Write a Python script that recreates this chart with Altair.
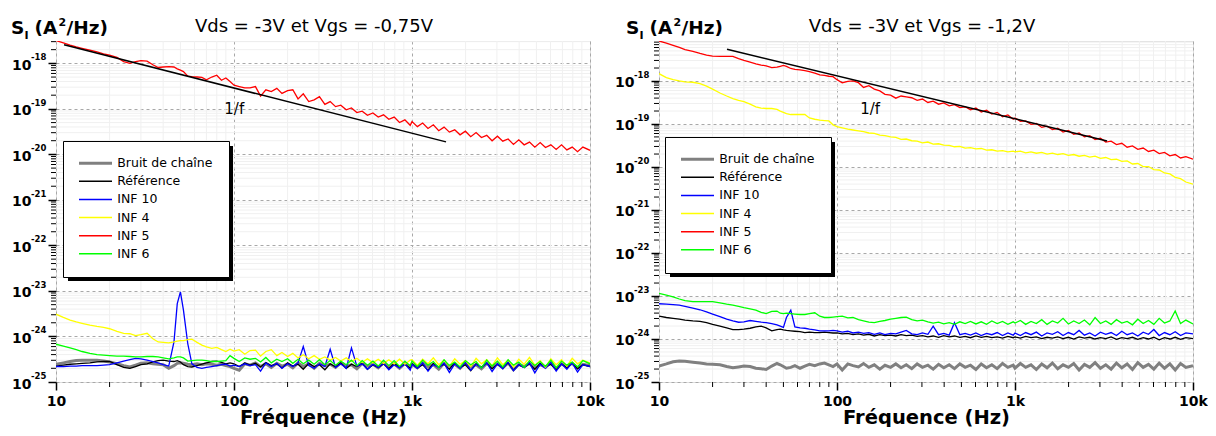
import altair as alt
import pandas as pd

FONT = "DejaVu Sans"
W, H = 534, 341

# ---------------- data (log10 of S in A^2/Hz) ----------------
freq = [10, 11, 12, 13, 14, 15.5, 17, 18.5, 20, 22, 24, 26, 28, 30, 32.5, 35, 37.5, 40, 43, 46,
        48, 50, 52, 55, 58, 62, 66, 70, 75, 80, 85, 90, 95,
        100, 107, 115, 123, 132, 141, 151, 162, 174, 186, 200, 214, 229, 245, 263, 282, 302, 324, 347, 372,
        398, 427, 457, 490, 525, 562, 603, 646, 692, 741, 794, 851, 912, 977,
        1000, 1072, 1148, 1230, 1318, 1413, 1514, 1622, 1738, 1862, 1995, 2138, 2291, 2455, 2630, 2818,
        3020, 3236, 3467, 3715, 3981, 4266, 4571, 4898, 5248, 5623, 6026, 6457, 6918, 7413, 7943, 8511, 9120, 10000]

series_names = ["Bruit de chaîne", "Référence", "INF 10", "INF 4", "INF 5", "INF 6"]
series_colors = ["#808080", "#000000", "#0000ff", "#ffff00", "#ff0000", "#00ff00"]

left_gray = [-24.61, -24.58, -24.55, -24.53, -24.52, -24.52, -24.52, -24.54, -24.56, -24.60, -24.64, -24.67, -24.63, -24.59, -24.58, -24.60, -24.61, -24.62, -24.70, -24.64, -24.59, -24.58, -24.59, -24.61, -24.62, -24.60, -24.62, -24.60, -24.61, -24.63, -24.61, -24.64, -24.66,
             -24.70, -24.74, -24.60, -24.63, -24.58, -24.66, -24.60, -24.68, -24.59, -24.65, -24.61, -24.69, -24.58, -24.66, -24.60, -24.70, -24.59, -24.64, -24.61, -24.68, -24.58, -24.66, -24.62, -24.71, -24.59, -24.65, -24.61, -24.69, -24.58, -24.67, -24.60, -24.70, -24.59, -24.66,
             -24.61, -24.69, -24.58, -24.66, -24.62, -24.72, -24.59, -24.65, -24.61, -24.70, -24.58, -24.67, -24.62, -24.71, -24.59, -24.66, -24.60, -24.69, -24.58, -24.73, -24.61, -24.66, -24.59, -24.70, -24.62, -24.67, -24.58, -24.71, -24.60, -24.66, -24.59, -24.69, -24.61, -24.64]
left_black = [-24.65, -24.63, -24.61, -24.60, -24.59, -24.58, -24.56, -24.55, -24.55, -24.62, -24.68, -24.70, -24.66, -24.62, -24.60, -24.56, -24.53, -24.52, -24.54, -24.55, -24.53, -24.56, -24.62, -24.66, -24.67, -24.64, -24.61, -24.58, -24.55, -24.54, -24.57, -24.60, -24.58,
              -24.60, -24.66, -24.58, -24.63, -24.59, -24.67, -24.57, -24.64, -24.60, -24.69, -24.58, -24.65, -24.61, -24.72, -24.59, -24.66, -24.62, -24.73, -24.60, -24.67, -24.58, -24.70, -24.61, -24.66, -24.59, -24.72, -24.62, -24.68, -24.60, -24.71, -24.59, -24.67, -24.61, -24.70,
              -24.60, -24.69, -24.62, -24.74, -24.59, -24.67, -24.61, -24.72, -24.58, -24.68, -24.62, -24.75, -24.60, -24.67, -24.59, -24.71, -24.61, -24.69, -24.58, -24.74, -24.62, -24.68, -24.60, -24.72, -24.59, -24.67, -24.61, -24.73, -24.60, -24.69, -24.58, -24.71, -24.62, -24.66]
left_blue = [-24.66, -24.66, -24.65, -24.65, -24.64, -24.64, -24.64, -24.63, -24.62, -24.58, -24.54, -24.51, -24.48, -24.49, -24.52, -24.55, -24.58, -24.62, -24.65, -24.12, -23.28, -23.02, -23.42, -24.16, -24.60, -24.68, -24.70, -24.68, -24.66, -24.64, -24.62, -24.61, -24.65,
             -24.63, -24.66, -24.60, -24.64, -24.62, -24.76, -24.58, -24.66, -24.59, -24.70, -24.60, -24.66, -24.58, -24.22, -24.64, -24.70, -24.60, -24.66, -24.28, -24.68, -24.60, -24.70, -24.25, -24.65, -24.60, -24.72, -24.61, -24.68, -24.59, -24.73, -24.62, -24.69, -24.60, -24.74,
             -24.61, -24.70, -24.58, -24.76, -24.62, -24.68, -24.59, -24.79, -24.60, -24.70, -24.57, -24.74, -24.61, -24.69, -24.58, -24.77, -24.60, -24.71, -24.56, -24.75, -24.62, -24.68, -24.58, -24.80, -24.61, -24.70, -24.57, -24.76, -24.60, -24.72, -24.58, -24.78, -24.62, -24.66]
left_yellow = [-23.51, -23.58, -23.64, -23.68, -23.71, -23.75, -23.78, -23.80, -23.83, -23.89, -23.93, -23.94, -23.98, -23.96, -23.93, -24.05, -24.12, -24.13, -24.14, -24.12, -24.10, -24.09, -24.09, -24.07, -24.06, -24.13, -24.19, -24.23, -24.26, -24.24, -24.29, -24.33, -24.28,
               -24.32, -24.29, -24.39, -24.31, -24.30, -24.43, -24.33, -24.29, -24.42, -24.35, -24.44, -24.37, -24.47, -24.40, -24.49, -24.42, -24.50, -24.45, -24.52, -24.46, -24.54, -24.47, -24.55, -24.48, -24.57, -24.49, -24.58, -24.50, -24.59, -24.51, -24.60, -24.50, -24.61, -24.52,
               -24.51, -24.63, -24.50, -24.60, -24.47, -24.62, -24.52, -24.65, -24.49, -24.61, -24.53, -24.66, -24.48, -24.60, -24.51, -24.64, -24.47, -24.62, -24.52, -24.67, -24.50, -24.61, -24.46, -24.63, -24.53, -24.68, -24.49, -24.62, -24.51, -24.65, -24.48, -24.60, -24.52, -24.58]
left_red = [-17.50, -17.55, -17.60, -17.64, -17.67, -17.71, -17.75, -17.79, -17.82, -17.87, -17.96, -18.00, -17.96, -17.94, -17.95, -18.03, -18.09, -18.08, -18.07, -18.08, -18.12, -18.15, -18.18, -18.28, -18.29, -18.30, -18.31, -18.36, -18.30, -18.26, -18.37, -18.32, -18.40,
            -18.48, -18.51, -18.54, -18.54, -18.51, -18.72, -18.58, -18.62, -18.55, -18.66, -18.60, -18.58, -18.78, -18.67, -18.84, -18.80, -18.73, -18.90, -18.84, -18.95, -18.92, -19.02, -18.98, -19.08, -19.05, -19.14, -19.09, -19.18, -19.13, -19.23, -19.18, -19.30, -19.24, -19.36,
            -19.28, -19.39, -19.31, -19.43, -19.35, -19.48, -19.40, -19.51, -19.46, -19.57, -19.49, -19.61, -19.52, -19.63, -19.58, -19.70, -19.60, -19.71, -19.66, -19.78, -19.68, -19.79, -19.73, -19.84, -19.74, -19.85, -19.79, -19.89, -19.79, -19.90, -19.84, -19.94, -19.84, -19.91]
left_green = [-24.17, -24.21, -24.25, -24.29, -24.33, -24.37, -24.40, -24.41, -24.42, -24.43, -24.43, -24.44, -24.45, -24.45, -24.44, -24.44, -24.45, -24.47, -24.49, -24.47, -24.45, -24.45, -24.47, -24.54, -24.53, -24.52, -24.52, -24.53, -24.55, -24.55, -24.54, -24.53, -24.42,
              -24.48, -24.55, -24.47, -24.50, -24.48, -24.56, -24.46, -24.58, -24.50, -24.55, -24.49, -24.59, -24.50, -24.60, -24.52, -24.61, -24.51, -24.62, -24.53, -24.63, -24.54, -24.62, -24.52, -24.64, -24.53, -24.63, -24.54, -24.65, -24.52, -24.64, -24.53, -24.66, -24.54, -24.65,
              -24.54, -24.66, -24.52, -24.63, -24.55, -24.68, -24.51, -24.64, -24.56, -24.67, -24.53, -24.62, -24.55, -24.69, -24.52, -24.65, -24.54, -24.67, -24.51, -24.63, -24.56, -24.68, -24.53, -24.64, -24.55, -24.66, -24.52, -24.69, -24.54, -24.63, -24.56, -24.67, -24.53, -24.60]

right_gray = [-24.63, -24.58, -24.53, -24.51, -24.52, -24.54, -24.56, -24.58, -24.59, -24.60, -24.64, -24.67, -24.65, -24.63, -24.64, -24.68, -24.69, -24.71, -24.63, -24.57, -24.60, -24.64, -24.68, -24.66, -24.62, -24.68, -24.63, -24.59, -24.62, -24.58, -24.56, -24.60, -24.64,
              -24.58, -24.72, -24.58, -24.62, -24.65, -24.57, -24.66, -24.60, -24.70, -24.61, -24.66, -24.58, -24.67, -24.60, -24.69, -24.58, -24.66, -24.61, -24.70, -24.59, -24.67, -24.60, -24.69, -24.58, -24.66, -24.61, -24.71, -24.58, -24.67, -24.60, -24.69, -24.57, -24.66, -24.61,
              -24.68, -24.57, -24.66, -24.60, -24.71, -24.58, -24.67, -24.56, -24.69, -24.60, -24.66, -24.57, -24.72, -24.59, -24.66, -24.55, -24.68, -24.60, -24.70, -24.56, -24.67, -24.58, -24.71, -24.55, -24.66, -24.59, -24.70, -24.56, -24.68, -24.58, -24.72, -24.57, -24.66, -24.62]
right_black = [-23.47, -23.50, -23.52, -23.54, -23.56, -23.58, -23.59, -23.62, -23.66, -23.70, -23.74, -23.78, -23.78, -23.77, -23.75, -23.72, -23.70, -23.74, -23.81, -23.78, -23.77, -23.79, -23.80, -23.81, -23.82, -23.83, -23.85, -23.84, -23.85, -23.85, -23.84, -23.85, -23.86,
               -23.86, -23.88, -23.87, -23.90, -23.88, -23.91, -23.89, -23.93, -23.90, -23.92, -23.91, -23.93, -23.90, -23.92, -23.91, -23.94, -23.92, -23.95, -23.93, -23.96, -23.92, -23.95, -23.93, -23.96, -23.94, -23.97, -23.93, -23.96, -23.94, -23.97, -23.95, -23.98, -23.94, -23.97,
               -23.95, -23.98, -23.94, -23.97, -23.95, -23.99, -23.96, -23.98, -23.95, -23.99, -23.96, -24.00, -23.95, -23.98, -23.96, -24.00, -23.97, -23.99, -23.95, -24.01, -23.97, -23.99, -23.96, -24.01, -23.97, -24.00, -23.96, -24.02, -23.97, -24.00, -23.96, -24.01, -23.97, -23.99]
right_blue = [-23.18, -23.19, -23.20, -23.21, -23.24, -23.28, -23.32, -23.37, -23.42, -23.48, -23.54, -23.58, -23.61, -23.60, -23.57, -23.59, -23.61, -23.62, -23.64, -23.67, -23.70, -23.73, -23.50, -23.33, -23.72, -23.74, -23.75, -23.77, -23.79, -23.81, -23.81, -23.81, -23.80,
              -23.81, -23.84, -23.82, -23.86, -23.84, -23.87, -23.85, -23.89, -23.86, -23.90, -23.87, -23.88, -23.84, -23.80, -23.88, -23.90, -23.86, -23.89, -23.70, -23.90, -23.87, -23.91, -23.62, -23.90, -23.87, -23.91, -23.86, -23.92, -23.87, -23.90, -23.85, -23.92, -23.86, -23.91,
              -23.86, -23.92, -23.85, -23.90, -23.84, -23.93, -23.86, -23.89, -23.83, -23.92, -23.85, -23.90, -23.80, -23.91, -23.86, -23.93, -23.84, -23.89, -23.85, -23.92, -23.82, -23.90, -23.86, -23.93, -23.84, -23.89, -23.78, -23.92, -23.85, -23.90, -23.83, -23.92, -23.86, -23.88]
right_yellow = [-17.83, -17.92, -17.97, -18.00, -18.02, -18.03, -18.06, -18.12, -18.19, -18.28, -18.35, -18.41, -18.45, -18.48, -18.54, -18.60, -18.63, -18.64, -18.64, -18.66, -18.70, -18.73, -18.76, -18.78, -18.78, -18.78, -18.78, -18.86, -18.89, -18.91, -18.92, -18.93, -19.02,
                -19.06, -19.09, -19.12, -19.14, -19.16, -19.18, -19.21, -19.22, -19.26, -19.27, -19.30, -19.31, -19.36, -19.35, -19.39, -19.40, -19.44, -19.42, -19.47, -19.46, -19.49, -19.50, -19.53, -19.52, -19.56, -19.55, -19.58, -19.57, -19.61, -19.60, -19.63, -19.62, -19.65, -19.63,
                -19.65, -19.63, -19.67, -19.65, -19.68, -19.66, -19.70, -19.68, -19.71, -19.69, -19.73, -19.71, -19.75, -19.73, -19.77, -19.75, -19.80, -19.78, -19.83, -19.82, -19.87, -19.86, -19.93, -19.92, -19.99, -19.99, -20.06, -20.07, -20.14, -20.16, -20.24, -20.27, -20.35, -20.40]
right_red = [-17.07, -17.12, -17.17, -17.22, -17.27, -17.31, -17.36, -17.40, -17.42, -17.43, -17.43, -17.43, -17.48, -17.52, -17.56, -17.60, -17.63, -17.65, -17.69, -17.68, -17.66, -17.64, -17.66, -17.71, -17.73, -17.74, -17.76, -17.78, -17.82, -17.86, -17.87, -17.89, -17.90,
             -17.97, -18.04, -18.01, -18.00, -18.04, -18.15, -18.11, -18.19, -18.23, -18.31, -18.33, -18.40, -18.35, -18.37, -18.39, -18.45, -18.42, -18.50, -18.47, -18.54, -18.51, -18.58, -18.55, -18.62, -18.60, -18.67, -18.63, -18.72, -18.68, -18.77, -18.73, -18.83, -18.79, -18.89,
             -18.86, -18.94, -18.93, -19.01, -18.99, -19.08, -19.05, -19.13, -19.10, -19.19, -19.15, -19.24, -19.21, -19.30, -19.27, -19.36, -19.33, -19.42, -19.40, -19.48, -19.45, -19.54, -19.51, -19.59, -19.56, -19.64, -19.61, -19.69, -19.66, -19.74, -19.71, -19.79, -19.76, -19.82]
right_green = [-22.94, -22.98, -23.02, -23.07, -23.11, -23.13, -23.13, -23.13, -23.13, -23.16, -23.19, -23.21, -23.24, -23.27, -23.30, -23.33, -23.38, -23.41, -23.36, -23.35, -23.40, -23.41, -23.40, -23.41, -23.42, -23.43, -23.43, -23.41, -23.39, -23.47, -23.50, -23.50, -23.49,
               -23.48, -23.47, -23.51, -23.50, -23.55, -23.58, -23.61, -23.62, -23.59, -23.57, -23.54, -23.52, -23.50, -23.49, -23.55, -23.58, -23.56, -23.60, -23.63, -23.61, -23.65, -23.62, -23.66, -23.60, -23.64, -23.59, -23.65, -23.60, -23.66, -23.58, -23.64, -23.59, -23.66, -23.60,
               -23.63, -23.57, -23.66, -23.59, -23.64, -23.55, -23.66, -23.58, -23.63, -23.52, -23.65, -23.58, -23.64, -23.56, -23.67, -23.50, -23.64, -23.58, -23.66, -23.55, -23.63, -23.59, -23.67, -23.54, -23.64, -23.57, -23.66, -23.52, -23.63, -23.58, -23.35, -23.64, -23.56, -23.65]

# 1/f reference lines (end points) and their labels
left_fit_f = [11.1, 1553]
left_fit_log = [-17.593, -19.725]
right_fit_f = [24.1, 3290]
right_fit_log = [-17.264, -19.395]
left_note_f, left_note_log = [88.2], [-19.11]
right_note_f, right_note_log = [135], [-18.775]

# axis values
x_major = [10, 100, 1000, 10000]
x_minor_mult = [2, 3, 4, 5, 6, 7, 8, 9]
x_minor_decades = [10, 100, 1000]
y_exponents = [-25, -24, -23, -22, -21, -20, -19, -18]
y_exp_labels = ["-25", "-24", "-23", "-22", "-21", "-20", "-19", "-18"]

one = pd.DataFrame({"k": [0]})


def panel(logs_list, ytop, title, title_x, header_x, fit_f, fit_log, note_f, note_log, leg_x, leg_y):
    rows = []
    for name, logs in zip(series_names, logs_list):
        if len(logs) != len(freq):
            raise ValueError(f"{name}: {len(logs)} values for {len(freq)} frequencies")
        for f, l in zip(freq, logs):
            rows.append({"f": f, "S": 10.0 ** l, "series": name})
    df = pd.DataFrame(rows)

    xs = alt.Scale(type="log", domain=[10, 10000], nice=False)
    ys = alt.Scale(type="log", domain=[1e-25, ytop], nice=False)

    decades = [10.0 ** e for e in y_exponents]
    y_minor = [m * 10.0 ** e for e in y_exponents for m in x_minor_mult if m * 10.0 ** e <= ytop]
    x_minor = [m * d for d in x_minor_decades for m in x_minor_mult]
    xm = pd.DataFrame({"v": x_minor})
    ym = pd.DataFrame({"v": y_minor})

    x_axis = alt.Axis(
        values=x_major,
        labelExpr="datum.value >= 1000 ? format(datum.value / 1000, 'd') + 'k' : format(datum.value, 'd')",
        labelFont=FONT, labelFontSize=14, labelFontWeight="bold", labelColor="black",
        labelPadding=4, labelFlush=False, labelOverlap=False,
        tickSize=8, tickColor="black", tickWidth=1.5,
        grid=True, gridColor="#a8a8a8", gridDash=[3, 3], gridWidth=1,
        domain=False, title="Fréquence (Hz)", titleFont=FONT, titleFontSize=19.5,
        titleFontWeight="bold", titleColor="black", titlePadding=0)
    y_axis = alt.Axis(
        values=decades, labelExpr="'10'",
        labelFont=FONT, labelFontSize=14, labelFontWeight="bold", labelColor="black",
        labelPadding=17, labelOffset=2, labelOverlap=False, labelFlush=False,
        tickSize=8, tickColor="black", tickWidth=1.5,
        grid=True, gridColor="#a8a8a8", gridDash=[3, 3], gridWidth=1,
        domain=False, title=None)

    def X(field):
        return alt.X(field, scale=xs, axis=x_axis)

    def Y(field):
        return alt.Y(field, scale=ys, axis=y_axis)

    grid_x = alt.Chart(xm).mark_rule(color="#f0f0f0", strokeWidth=1).encode(
        x=X("v:Q"), y=alt.value(0), y2=alt.value(H))
    grid_y = alt.Chart(ym).mark_rule(color="#f0f0f0", strokeWidth=1).encode(
        y=Y("v:Q"), x=alt.value(0), x2=alt.value(W))

    legend = alt.Legend(
        title=None, orient="none", legendX=leg_x, legendY=leg_y, direction="vertical",
        fillColor="white", strokeColor="black", padding=16,
        symbolType="M-6,0H6", symbolSize=30.25, symbolOffset=10.25,
        symbolStrokeWidth=alt.ExprRef(expr="datum.value == 'Bruit de chaîne' ? 3 : 1.5"),
        labelOffset=15.5, labelFont=FONT, labelFontSize=12.5, labelColor="black",
        rowPadding=5.1, labelLimit=300)

    lines = alt.Chart(df).mark_line(clip=True).encode(
        x=X("f:Q"),
        y=Y("S:Q"),
        color=alt.Color("series:N", scale=alt.Scale(domain=series_names, range=series_colors),
                        sort=series_names, legend=legend),
        strokeWidth=alt.condition(alt.datum.series == "Bruit de chaîne", alt.value(3), alt.value(1.3)),
        order=alt.Order("f:Q"),
    )

    fit = alt.Chart(pd.DataFrame({"f": fit_f, "S": [10.0 ** v for v in fit_log]})).mark_line(
        color="black", strokeWidth=1.5).encode(x=X("f:Q"), y=Y("S:Q"))

    note = alt.Chart(pd.DataFrame({"f": note_f, "S": [10.0 ** v for v in note_log], "t": ["1/f"]})).mark_text(
        font=FONT, fontSize=15, align="left", baseline="alphabetic", color="black").encode(
        x=X("f:Q"), y=Y("S:Q"), text="t:N")

    LEG_W, LEG_H = 166, 136
    shadow = alt.Chart(one).mark_rect(color="black").encode(
        x=alt.value(leg_x + 5), x2=alt.value(leg_x + LEG_W + 4),
        y=alt.value(leg_y + 5), y2=alt.value(leg_y + LEG_H + 4))

    tick_x = alt.Chart(xm).mark_rule(color="black", strokeWidth=1).encode(
        x=X("v:Q"), y=alt.value(H), y2=alt.value(H + 5))
    tick_y = alt.Chart(ym).mark_rule(color="black", strokeWidth=1).encode(
        y=Y("v:Q"), x=alt.value(-5), x2=alt.value(0))

    exps = alt.Chart(pd.DataFrame({"v": decades, "e": y_exp_labels})).mark_text(
        font=FONT, fontSize=8.5, fontWeight="bold", align="left", baseline="middle", dy=-6, color="black").encode(
        y=Y("v:Q"), x=alt.value(-25), text="e:N")

    head = []
    parts = [("S", 0, -7, 18.5), ("I", 13.5, -2, 11), ("(A", 23.5, -7, 18.5), ("2", 47.5, -15, 11), ("/Hz)", 55.5, -7, 18.5)]
    for txt, dx, yy, fs in parts:
        head.append(alt.Chart(one).mark_text(text=txt, font=FONT, fontSize=fs, fontWeight="bold",
                                             align="left", baseline="alphabetic", color="black").encode(
            x=alt.value(header_x + dx), y=alt.value(yy)))
    ttl = alt.Chart(one).mark_text(text=title, font=FONT, fontSize=18, align="center",
                                   baseline="alphabetic", color="black").encode(
        x=alt.value(title_x), y=alt.value(-9))

    return alt.layer(grid_x, grid_y, shadow, lines, fit, note, tick_x, tick_y, exps, ttl, *head).properties(
        width=W, height=H)


left = panel([left_gray, left_black, left_blue, left_yellow, left_red, left_green], 3.1e-18,
             "Vds = -3V et Vgs = -0,75V", 258, -45, left_fit_f, left_fit_log, left_note_f, left_note_log, 7, 100)
right = panel([right_gray, right_black, right_blue, right_yellow, right_red, right_green], 8.5e-18,
              "Vds = -3V et Vgs = -1,2V", 263, -33, right_fit_f, right_fit_log, right_note_f, right_note_log, 6, 96)

chart = alt.hconcat(left, right, spacing=9).resolve_scale(
    x="independent", y="independent", color="independent").resolve_legend(color="independent").properties(
    padding={"left": 2, "top": 8, "right": 0, "bottom": 0}).configure_view(
    stroke="black", strokeWidth=2).configure(font=FONT)

chart.save("out.html", embed_options={"renderer": "svg", "actions": False})
